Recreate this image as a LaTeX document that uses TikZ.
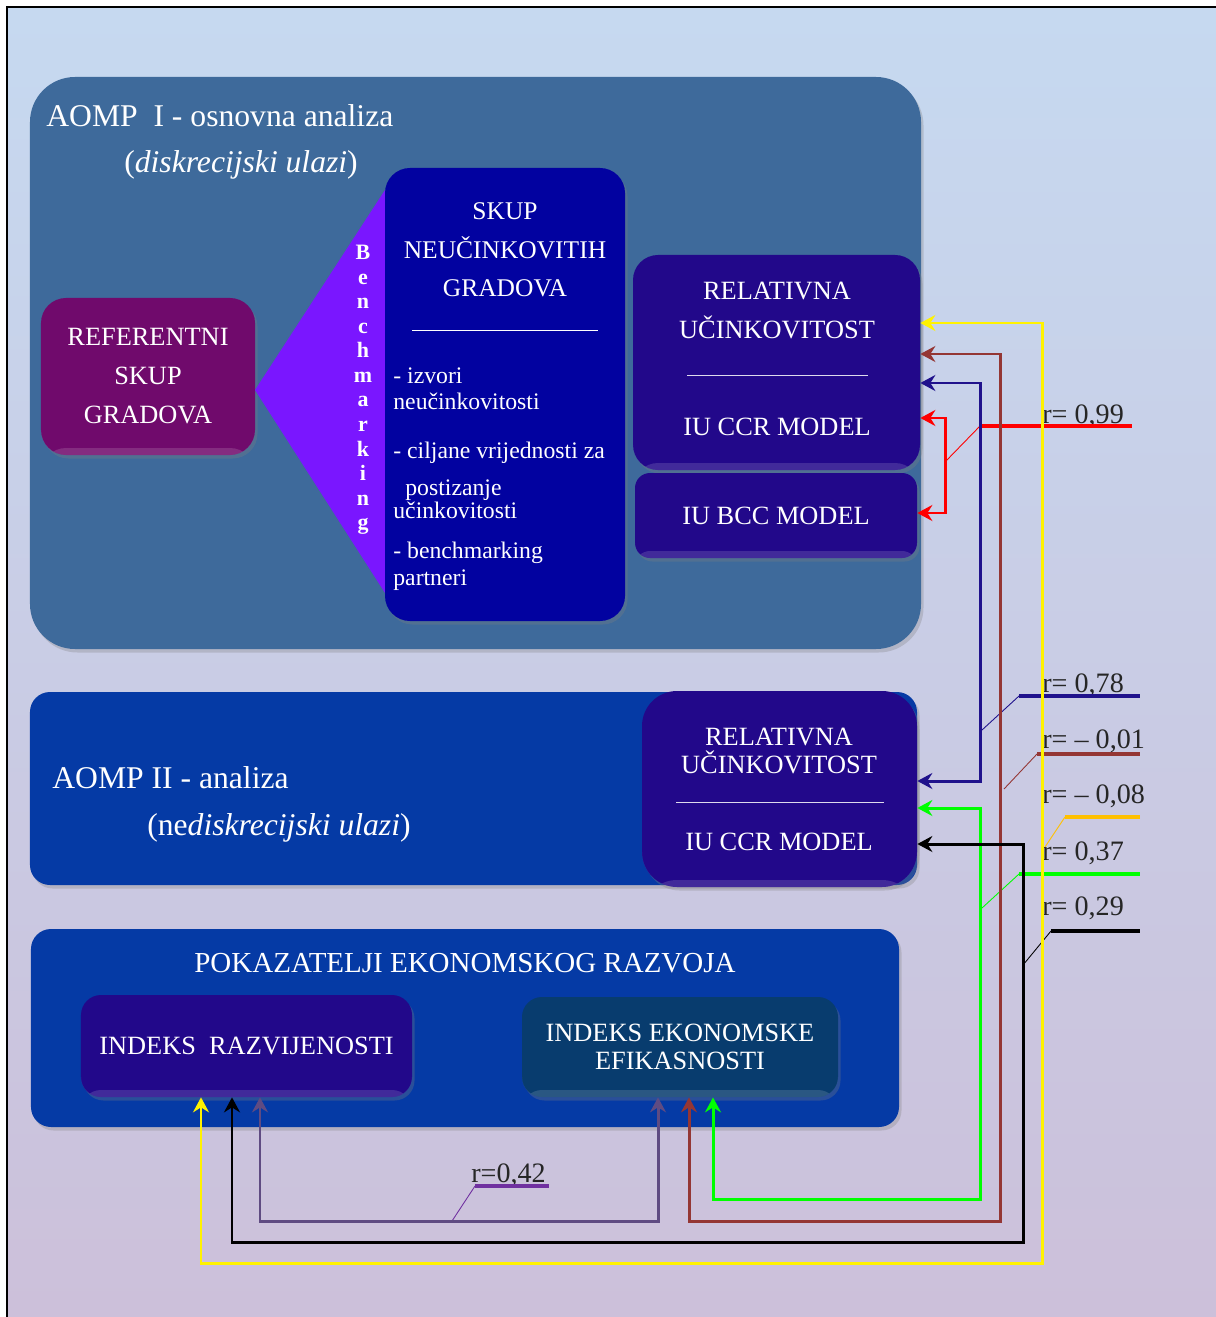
\documentclass[tikz,border=0pt]{standalone}
\usepackage{fontspec}
\setmainfont{Liberation Serif}
\usetikzlibrary{arrows.meta,shadows,calc}

\definecolor{bgtop}{RGB}{198,217,240}
\definecolor{bgbot}{RGB}{204,192,218}
\definecolor{steel}{RGB}{62,106,155}
\definecolor{plum}{RGB}{112,10,108}
\definecolor{violetbm}{RGB}{122,22,255}
\definecolor{navybox}{RGB}{2,2,160}
\definecolor{indigo}{RGB}{34,8,138}
\definecolor{royal}{RGB}{5,58,165}
\definecolor{iecol}{RGB}{8,60,110}
\definecolor{cbrown}{RGB}{148,54,52}
\definecolor{cnavy}{RGB}{32,18,140}
\definecolor{cgray}{RGB}{95,75,130}
\definecolor{cpurple}{RGB}{112,48,160}
\definecolor{corange}{RGB}{255,192,0}

\begin{document}
\begin{tikzpicture}[x=0.2mm,y=-0.2mm]%%korelacije

        \tikzstyle{box}   = [rectangle, inner sep=0pt, text=white, drop shadow={opacity=0.3, shadow xshift=0.5mm, shadow yshift=-0.7mm}]
        \tikzstyle{rim}   = [path picture={\fill[white, opacity=0.14] (path picture bounding box.south west) rectangle ([yshift=1.4mm]path picture bounding box.south east);}]
        \tikzstyle{tx}    = [text=white, inner sep=0pt, anchor=base, font=\fontsize{15}{18}\selectfont]
        \tikzstyle{ttl}   = [text=white, inner sep=0pt, anchor=base west, font=\fontsize{18}{21}\selectfont]
        \tikzstyle{li}    = [text=white, inner sep=0pt, anchor=base west, font=\fontsize{13.5}{16}\selectfont]
        \tikzstyle{bm}    = [text=white, inner sep=0pt, anchor=base, font=\fontsize{12.5}{15}\selectfont\bfseries]
        \tikzstyle{lab}   = [text=black!85, inner sep=0pt, anchor=base west, font=\fontsize{16}{19}\selectfont]
        \tikzstyle{cn}    = [{Stealth[length=3mm,width=3.2mm,inset=1mm]}-{Stealth[length=3mm,width=3.2mm,inset=1mm]}, line width=1.7pt]
        \tikzstyle{lead}  = [line width=0.5pt]
        \tikzstyle{leadh} = [line width=1.8pt]

        \useasboundingbox (0,0) rectangle (1216,1317);
        \fill[top color=bgtop, bottom color=bgbot] (8,8) rectangle (1216,1317);
        \draw[line width=1.3pt] (7,1317) -- (7,7) -- (1216,7);

        \node[box, fill=steel, rounded corners=9mm, minimum width=178.2mm, minimum height=114.4mm] (ao1) at (475.5,363) {};
        \node[ttl] (t1) at (46,127) {AOMP\ \ I - osnovna analiza};
        \node[ttl] (t2) at (124,173) {(\textit{diskrecijski ulazi})};

        \node[box, rim, fill=plum, rounded corners=5mm, minimum width=42.8mm, minimum height=31.4mm, align=center, font=\fontsize{15}{22.2}\selectfont] (ref) at (148,376.5) {REFERENTNI\\SKUP\\GRADOVA};
        \fill[violetbm] (255,390) -- (385,190) -- (385,593) -- cycle;
        \node[box, fill=navybox, rounded corners=5mm, minimum width=48mm, minimum height=90.6mm] (sk) at (505,394.5) {};
        \foreach \l [count=\i from 0] in {B,e,n,c,h,m,a,r,k,i,n,g}
        {
                \node[bm] (bm\i) at (363,260+24.5*\i) {\l};
        }
        \node[tx, font=\fontsize{14.5}{17}\selectfont] (sk1) at (505,220) {SKUP};
        \node[tx, font=\fontsize{14.5}{17}\selectfont] (sk2) at (505,259) {NEUČINKOVITIH};
        \node[tx, font=\fontsize{14.5}{17}\selectfont] (sk3) at (505,297) {GRADOVA};
        \draw[white, line width=0.4pt] (412,330) -- (598,330);
        \foreach \x/\y/\s [count=\i] in {393/384/- izvori, 393/410/neučinkovitosti, 393/458/- ciljane vrijednosti za, 405/495/postizanje, 393/518/učinkovitosti, 393/558/- benchmarking, 393/585/partneri}
        {
                \node[li] (li\i) at (\x,\y) {\s};
        }

        \node[box, rim, fill=indigo, rounded corners=5mm, minimum width=57.4mm, minimum height=43mm] (rel1) at (776.5,362.5) {};
        \node[tx] (ra1) at (777,300) {RELATIVNA};
        \node[tx] (ra2) at (777,339) {UČINKOVITOST};
        \draw[white!85!indigo, line width=0.4pt] (687,375) -- (868,375);
        \node[tx] (ra3) at (777,435) {IU CCR MODEL};
        \node[box, rim, fill=indigo, rounded corners=3mm, minimum width=56.4mm, minimum height=17mm, font=\fontsize{15}{18}\selectfont] (bcc) at (776,515.5) {IU BCC MODEL};

        \node[box, fill=royal, rounded corners=4mm, minimum width=177.4mm, minimum height=38.6mm] (ao2) at (473.5,788.5) {};
        \node[ttl] (t3) at (52,788) {AOMP II - analiza};
        \node[ttl] (t4) at (147,835) {(ne\textit{diskrecijski ulazi})};
        \node[box, rim, fill=indigo, rounded corners=7mm, minimum width=55mm, minimum height=39.2mm] (rel2) at (779.5,789) {};
        \node[tx] (rb1) at (779,745) {RELATIVNA};
        \node[tx] (rb2) at (779,773) {UČINKOVITOST};
        \draw[white!85!indigo, line width=0.4pt] (676,802) -- (884,802);
        \node[tx] (rb3) at (779,850) {IU CCR MODEL};

        \node[box, fill=royal, rounded corners=4mm, minimum width=173.6mm, minimum height=39.6mm] (pok) at (465,1028) {};
        \node[tx, font=\fontsize{16.5}{19}\selectfont] (pk) at (465,972) {POKAZATELJI EKONOMSKOG RAZVOJA};
        \node[box, rim, fill=indigo, rounded corners=4mm, minimum width=66.2mm, minimum height=20.4mm, font=\fontsize{15}{18}\selectfont] (ir) at (246.5,1046) {INDEKS\ \ RAZVIJENOSTI};
        \node[box, rim, fill=iecol, rounded corners=4mm, minimum width=63.2mm, minimum height=20mm, align=center, font=\fontsize{15}{15.9}\selectfont] (ie) at (680,1047) {INDEKS EKONOMSKE\\EFIKASNOSTI};

        \foreach \col/\ax/\ay/\kx/\ky/\ex/\lx/\ly/\txt [count=\i] in {red/945/462/980/426/1132/1042/423/{r= 0,99}, cnavy/982/730/1019/696/1140/1042/692/{r= 0,78}, cbrown/1004/789/1037/754/1140/1042/748/{r= – 0,01}, corange/1045/847/1065/817/1140/1042/803/{r= – 0,08}, green/982/908/1019/874/1140/1042/860/{r= 0,37}, black/1023/965/1051/931/1140/1042/915/{r= 0,29}, cpurple/452/1221/475/1186/549/471/1182/{r=0,42}}
        {
                \node[lab] (r\i) at (\lx,\ly) {\txt};
                \draw[lead, \col] (\ax,\ay) -- (\kx,\ky);
                \draw[leadh, \col] (\kx,\ky) -- (\ex,\ky);
        }

        \draw[cn, yellow] (rel1.east |- 0,323) -- (1042,323) -- (1042,1263) -| (ir.south -| 201,0);
        \draw[cn, cbrown] (rel1.east |- 0,354) -- (1000,354) -- (1000,1221) -| (ie.south -| 689,0);
        \draw[cn, cnavy] (rel1.east |- 0,383) -- (980,383) -- (980,781) -- (rel2.east |- 0,781);
        \draw[cn, red] (rel1.east |- 0,418) -- (945,418) -- (945,513) -- (bcc.east |- 0,513);
        \draw[cn, green] (rel2.east |- 0,808) -- (980,808) -- (980,1199) -| (ie.south -| 713,0);
        \draw[cn, black] (rel2.east |- 0,844) -- (1023,844) -- (1023,1242) -| (ir.south -| 232,0);
        \draw[cn, cgray] (ir.south -| 260,0) -- (260,1221) -| (ie.south -| 658,0);
\end{tikzpicture}
\end{document}
